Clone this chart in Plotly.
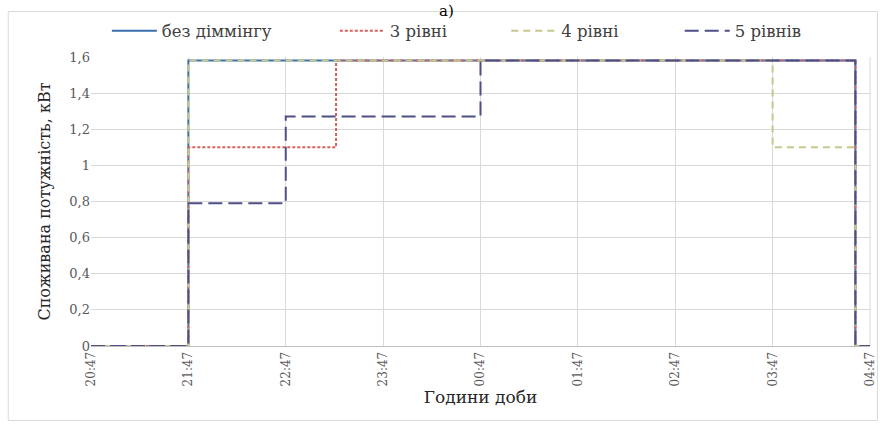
import datetime as dt
import plotly.graph_objects as go

# Break points of the step profiles (clock time, night 20:47 -> 04:47)
times = ["20:47", "21:47", "22:47", "23:18", "00:47", "03:47", "04:38", "04:47"]

# Consumed power, kW, held from each break point until the next one
no_dimming = [0, 1.58, 1.58, 1.58, 1.58, 1.58, 0, 0]
levels_3 = [0, 1.10, 1.10, 1.58, 1.58, 1.58, 0, 0]
levels_4 = [0, 1.58, 1.58, 1.58, 1.58, 1.10, 0, 0]
levels_5 = [0, 0.79, 1.27, 1.27, 1.58, 1.58, 0, 0]

names = ["без діммінгу", "3 рівні", "4 рівні", "5 рівнів"]
series = [no_dimming, levels_3, levels_4, levels_5]
colors = ["#3a6fae", "#d9605a", "#c6c78c", "#4f4f88"]
dashes = ["solid", "3px,2px", "7px,5px", "14px,6px"]

tick_labels = ["20:47", "21:47", "22:47", "23:47", "00:47", "01:47", "02:47", "03:47", "04:47"]


def to_dt(label):
    h, m = map(int, label.split(":"))
    day = 1 if h >= 12 else 2
    return dt.datetime(2020, 1, day, h, m)


x = [to_dt(t) for t in times]
tickvals = [to_dt(t) for t in tick_labels]

# Geometry of the plotting area in pixels
W, H = 887, 426
L, R, T, B = 91, 10, 57, 80
pw, ph = W - L - R, H - T - B


def px_x(p):
    return (p - L) / pw


def px_y(p):
    return (H - B - p) / ph


fig = go.Figure()
legend_x = [115, 345, 518, 693]
for i, (name, ys, c, d) in enumerate(zip(names, series, colors, dashes)):
    lg = "legend" if i == 0 else f"legend{i + 1}"
    fig.add_trace(go.Scatter(
        x=x, y=ys, name=name, mode="lines",
        line=dict(color=c, width=2, dash=d, shape="hv"),
        legend=lg,
    ))

serif = "DejaVu Serif"
legend_common = dict(
    orientation="h", xanchor="left", yanchor="middle",
    y=px_y(31), bgcolor="rgba(0,0,0,0)", itemwidth=45,
    font=dict(family=serif, size=16.5, color="#404040"),
    itemclick=False, itemdoubleclick=False,
)

layout_legends = {}
for i, lx in enumerate(legend_x):
    key = "legend" if i == 0 else f"legend{i + 1}"
    layout_legends[key] = dict(legend_common, x=px_x(lx - 8))

fig.update_layout(
    width=W, height=H,
    margin=dict(l=L, r=R, t=T, b=B),
    paper_bgcolor="white", plot_bgcolor="white",
    separators=", ",
    font=dict(family=serif, color="#595959"),
    showlegend=True,
    **layout_legends,
    xaxis=dict(
        type="date",
        range=[tickvals[0], tickvals[-1]],
        tickvals=tickvals, ticktext=tick_labels,
        tickangle=-90,
        tickfont=dict(family=serif, size=12, color="#595959"),
        showgrid=True, gridcolor="#d9d9d9", gridwidth=1,
        showline=True, linecolor="#bfbfbf", linewidth=1,
        zeroline=False, ticks="",
        title=dict(text="Години доби", font=dict(family=serif, size=17, color="#262626"), standoff=5),
    ),
    yaxis=dict(
        range=[0, 1.6], dtick=0.2, tick0=0,
        tickfont=dict(family=serif, size=13, color="#595959"),
        showgrid=True, gridcolor="#d9d9d9", gridwidth=1,
        showline=False, zeroline=False, ticks="",
        title=dict(text="Споживана потужність, кВт", font=dict(family=serif, size=16, color="#262626"), standoff=14),
    ),
    shapes=[dict(
        type="rect", xref="paper", yref="paper",
        x0=px_x(7.5), x1=px_x(884.5), y0=px_y(420.5), y1=px_y(11.5),
        line=dict(color="#d9d9d9", width=1), layer="below",
    ), dict(
        type="line", xref="paper", yref="paper",
        x0=1, x1=1, y0=0, y1=1,
        line=dict(color="#d9d9d9", width=1), layer="below",
    )],
    annotations=[dict(
        text="а)", xref="paper", yref="paper",
        x=px_x(450), y=px_y(0), xanchor="center", yanchor="top",
        showarrow=False, font=dict(family=serif, size=15, color="#000000"),
    )],
)

fig.write_html("out.html")
